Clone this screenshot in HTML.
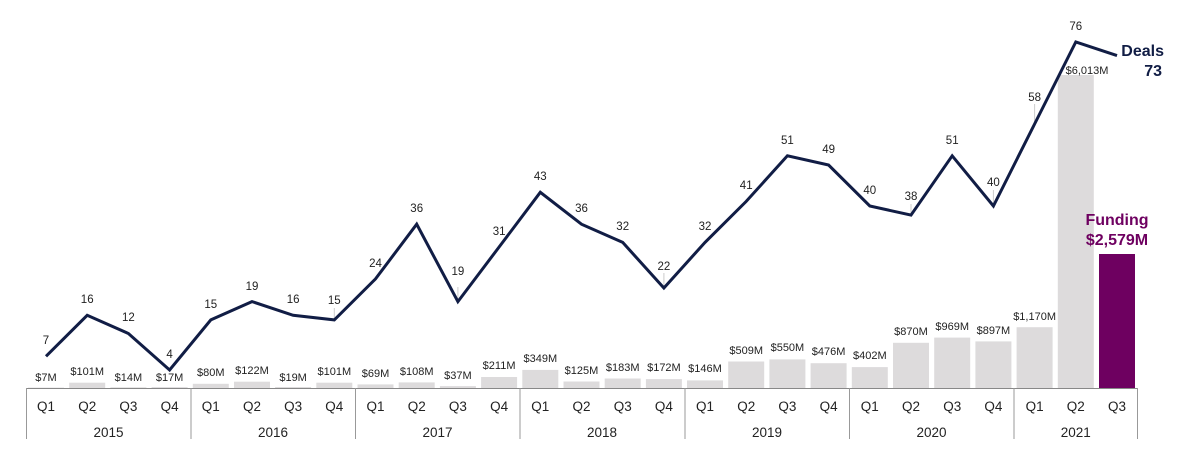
<!DOCTYPE html>
<html><head><meta charset="utf-8"><style>
html,body{margin:0;padding:0;background:#fff;width:1184px;height:461px;overflow:hidden}
svg text{font-family:"Liberation Sans",Arial,sans-serif}
.v{font-size:11px;fill:#222;text-anchor:middle}
.d{font-size:11.5px;fill:#222;text-anchor:middle}
.q{font-size:13.5px;fill:#222;text-anchor:middle}
.b{fill:#dddbdc}
</style></head><body>
<svg width="1184" height="461" xmlns="http://www.w3.org/2000/svg">
<g>
<rect class="b" x="28" y="387.6" width="36" height="0.4"/>
<rect class="b" x="69.2" y="382.7" width="36" height="5.3"/>
<rect class="b" x="110.4" y="387.3" width="36" height="0.7"/>
<rect class="b" x="151.6" y="387.1" width="36" height="0.9"/>
<rect class="b" x="192.8" y="383.8" width="36" height="4.2"/>
<rect class="b" x="234" y="381.7" width="36" height="6.3"/>
<rect class="b" x="275.1" y="387" width="36" height="1"/>
<rect class="b" x="316.3" y="382.7" width="36" height="5.3"/>
<rect class="b" x="357.5" y="384.4" width="36" height="3.6"/>
<rect class="b" x="398.7" y="382.4" width="36" height="5.6"/>
<rect class="b" x="439.9" y="386.1" width="36" height="1.9"/>
<rect class="b" x="481.1" y="377" width="36" height="11"/>
<rect class="b" x="522.3" y="369.9" width="36" height="18.1"/>
<rect class="b" x="563.5" y="381.5" width="36" height="6.5"/>
<rect class="b" x="604.7" y="378.5" width="36" height="9.5"/>
<rect class="b" x="645.9" y="379.1" width="36" height="8.9"/>
<rect class="b" x="687" y="380.4" width="36" height="7.6"/>
<rect class="b" x="728.2" y="361.5" width="36" height="26.5"/>
<rect class="b" x="769.4" y="359.4" width="36" height="28.6"/>
<rect class="b" x="810.6" y="363.2" width="36" height="24.8"/>
<rect class="b" x="851.8" y="367.1" width="36" height="20.9"/>
<rect class="b" x="893" y="342.8" width="36" height="45.2"/>
<rect class="b" x="934.2" y="337.6" width="36" height="50.4"/>
<rect class="b" x="975.4" y="341.4" width="36" height="46.6"/>
<rect class="b" x="1016.6" y="327.2" width="36" height="60.8"/>
<rect class="b" x="1057.8" y="75" width="36" height="313"/>
<rect x="1099" y="254" width="36" height="134" fill="#6e0060"/>
</g>
<g class="v">
<text class="v" x="46" y="381">$7M</text>
<text class="v" x="87.2" y="375">$101M</text>
<text class="v" x="128.4" y="381">$14M</text>
<text class="v" x="169.6" y="381">$17M</text>
<text class="v" x="210.8" y="376">$80M</text>
<text class="v" x="252" y="374">$122M</text>
<text class="v" x="293.1" y="381">$19M</text>
<text class="v" x="334.3" y="375">$101M</text>
<text class="v" x="375.5" y="377">$69M</text>
<text class="v" x="416.7" y="375">$108M</text>
<text class="v" x="457.9" y="379">$37M</text>
<text class="v" x="499.1" y="369">$211M</text>
<text class="v" x="540.3" y="362">$349M</text>
<text class="v" x="581.5" y="374">$125M</text>
<text class="v" x="622.7" y="371">$183M</text>
<text class="v" x="663.9" y="371">$172M</text>
<text class="v" x="705" y="372">$146M</text>
<text class="v" x="746.2" y="354">$509M</text>
<text class="v" x="787.4" y="351">$550M</text>
<text class="v" x="828.6" y="355">$476M</text>
<text class="v" x="869.8" y="359">$402M</text>
<text class="v" x="911" y="335">$870M</text>
<text class="v" x="952.2" y="330">$969M</text>
<text class="v" x="993.4" y="334">$897M</text>
<text class="v" x="1034.6" y="320">$1,170M</text>
<text class="v" x="1087" y="74">$6,013M</text>
</g>
<g stroke="#ccc" stroke-width="1">
<line x1="334.3" y1="308" x2="334.3" y2="320"/>
<line x1="457.9" y1="287" x2="457.9" y2="301"/>
<line x1="663.9" y1="273" x2="663.9" y2="288"/>
<line x1="911" y1="204" x2="911" y2="215"/>
<line x1="993.4" y1="190" x2="993.4" y2="206"/>
<line x1="1034.6" y1="104" x2="1034.6" y2="124"/>
</g>
<polyline fill="none" stroke="#111d45" stroke-width="3" stroke-linejoin="miter" points="46,356.3 87.2,315.3 128.4,333.5 169.6,370 210.8,319.9 252,301.6 293.1,315.3 334.3,319.9 375.5,278.9 416.7,224.2 457.9,301.6 499.1,247 540.3,192.3 581.5,224.2 622.7,242.4 663.9,288 705,242.4 746.2,201.4 787.4,155.8 828.6,165 869.8,206 911,215.1 952.2,155.8 993.4,206 1034.6,124 1075.8,42 1117,55.6"/>
<g>
<text class="d" x="46" y="344">7</text>
<text class="d" x="87.2" y="303">16</text>
<text class="d" x="128.4" y="321">12</text>
<text class="d" x="169.6" y="358">4</text>
<text class="d" x="210.8" y="308">15</text>
<text class="d" x="252" y="290">19</text>
<text class="d" x="293.1" y="303">16</text>
<text class="d" x="334.3" y="304">15</text>
<text class="d" x="375.5" y="267">24</text>
<text class="d" x="416.7" y="212">36</text>
<text class="d" x="457.9" y="275">19</text>
<text class="d" x="499.1" y="235">31</text>
<text class="d" x="540.3" y="180">43</text>
<text class="d" x="581.5" y="212">36</text>
<text class="d" x="622.7" y="230">32</text>
<text class="d" x="663.9" y="270">22</text>
<text class="d" x="705" y="230">32</text>
<text class="d" x="746.2" y="189">41</text>
<text class="d" x="787.4" y="144">51</text>
<text class="d" x="828.6" y="153">49</text>
<text class="d" x="869.8" y="194">40</text>
<text class="d" x="911" y="200">38</text>
<text class="d" x="952.2" y="144">51</text>
<text class="d" x="993.4" y="186">40</text>
<text class="d" x="1034.6" y="101">58</text>
<text class="d" x="1075.8" y="30">76</text>
</g>
<text x="1164" y="56" font-size="16" font-weight="bold" fill="#111d45" text-anchor="end">Deals</text>
<text x="1162" y="76" font-size="16" font-weight="bold" fill="#111d45" text-anchor="end">73</text>
<text x="1117" y="225" font-size="16" font-weight="bold" fill="#6e0060" text-anchor="middle">Funding</text>
<text x="1117" y="245" font-size="16" font-weight="bold" fill="#6e0060" text-anchor="middle">$2,579M</text>
<line x1="26" y1="388.5" x2="1137.5" y2="388.5" stroke="#888" stroke-width="1"/>
<g stroke="#999" stroke-width="1">
<line x1="26.5" y1="388" x2="26.5" y2="439"/>
<line x1="191" y1="388" x2="191" y2="439"/>
<line x1="355.5" y1="388" x2="355.5" y2="439"/>
<line x1="520" y1="388" x2="520" y2="439"/>
<line x1="685" y1="388" x2="685" y2="439"/>
<line x1="849.5" y1="388" x2="849.5" y2="439"/>
<line x1="1014" y1="388" x2="1014" y2="439"/>
<line x1="1137.5" y1="388" x2="1137.5" y2="439"/>
</g>
<g>
<text class="q" x="46" y="411">Q1</text><text class="q" x="87.2" y="411">Q2</text><text class="q" x="128.4" y="411">Q3</text><text class="q" x="169.6" y="411">Q4</text>
<text class="q" x="210.8" y="411">Q1</text><text class="q" x="252" y="411">Q2</text><text class="q" x="293.1" y="411">Q3</text><text class="q" x="334.3" y="411">Q4</text>
<text class="q" x="375.5" y="411">Q1</text><text class="q" x="416.7" y="411">Q2</text><text class="q" x="457.9" y="411">Q3</text><text class="q" x="499.1" y="411">Q4</text>
<text class="q" x="540.3" y="411">Q1</text><text class="q" x="581.5" y="411">Q2</text><text class="q" x="622.7" y="411">Q3</text><text class="q" x="663.9" y="411">Q4</text>
<text class="q" x="705" y="411">Q1</text><text class="q" x="746.2" y="411">Q2</text><text class="q" x="787.4" y="411">Q3</text><text class="q" x="828.6" y="411">Q4</text>
<text class="q" x="869.8" y="411">Q1</text><text class="q" x="911" y="411">Q2</text><text class="q" x="952.2" y="411">Q3</text><text class="q" x="993.4" y="411">Q4</text>
<text class="q" x="1034.6" y="411">Q1</text><text class="q" x="1075.8" y="411">Q2</text><text class="q" x="1117" y="411">Q3</text>
<text class="q" x="108.5" y="437">2015</text>
<text class="q" x="273" y="437">2016</text>
<text class="q" x="437.5" y="437">2017</text>
<text class="q" x="602" y="437">2018</text>
<text class="q" x="767" y="437">2019</text>
<text class="q" x="931.5" y="437">2020</text>
<text class="q" x="1075.8" y="437">2021</text>
</g>
</svg>
</body></html>
